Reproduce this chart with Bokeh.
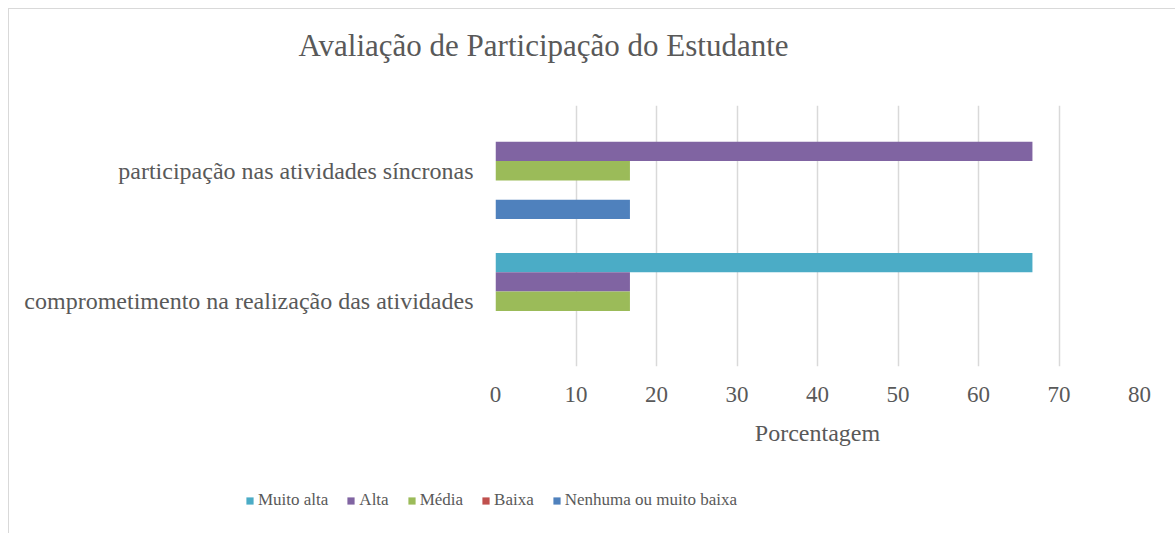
from bokeh.plotting import figure
from bokeh.layouts import column
from bokeh.models import FactorRange, Range1d, Legend, LegendItem, FixedTicker, Label
from bokeh.transform import dodge
from bokeh.embed import file_html
from bokeh.resources import INLINE

title_text = "Avaliação de Participação do Estudante"
x_label = "Porcentagem"
categories = ["comprometimento na realização das atividades",
              "participação nas atividades síncronas"]
series = ["Muito alta", "Alta", "Média", "Baixa", "Nenhuma ou muito baixa"]
muito_alta = [66.7, 0.0]
alta = [16.7, 66.7]
media = [16.7, 16.7]
baixa = [0.0, 0.0]
nenhuma = [0.0, 16.7]
colors = ["#4BACC6", "#8064A2", "#9BBB59", "#C0504D", "#4F81BD"]
x_ticks = [0, 10, 20, 30, 40, 50, 60, 70, 80]

FONT = "Liberation Serif"
TXT = "#595959"
W = 1166

# title strip
p0 = figure(width=W, height=60, output_backend="svg", toolbar_location=None,
            x_axis_type=None, y_axis_type=None,
            x_range=Range1d(0, 1), y_range=Range1d(0, 1),
            min_border=0, background_fill_color="white", border_fill_color="white",
            outline_line_color=None)
p0.frame_align = False
p0.grid.grid_line_color = None
p0.add_layout(Label(x=289, y=24, x_units="screen", y_units="screen", text=title_text,
                    text_font=FONT, text_font_size="31px", text_color=TXT,
                    text_align="left", text_baseline="middle"))

# main chart
p1 = figure(width=W, height=400, output_backend="svg", toolbar_location=None,
            y_range=FactorRange(factors=categories, range_padding=0),
            x_range=Range1d(0, 80),
            min_border_left=486, min_border_right=36,
            min_border_top=36, min_border_bottom=103,
            background_fill_color="white", border_fill_color="white",
            outline_line_color=None)
p1.frame_align = False

data = dict(cat=categories, muito_alta=muito_alta, alta=alta, media=media,
            baixa=baixa, nenhuma=nenhuma)
cols = ["muito_alta", "alta", "media", "baixa", "nenhuma"]
bh = 0.148
offsets = [2 * bh, bh, 0, -bh, -2 * bh]
for col, off, c in zip(cols, offsets, colors):
    p1.hbar(y=dodge("cat", off, range=p1.y_range), right=col, left=0, height=bh,
            source=data, fill_color=c, line_color=None)

p1.xaxis.ticker = FixedTicker(ticks=x_ticks)
p1.xaxis.axis_label = x_label
for ax in (p1.xaxis[0], p1.yaxis[0]):
    ax.axis_line_color = None
    ax.major_tick_line_color = None
    ax.minor_tick_line_color = None
    ax.major_label_text_font = FONT
    ax.major_label_text_color = TXT
    ax.major_label_text_font_size = "23px"
p1.xaxis.major_label_standoff = 14
p1.xaxis.axis_label_text_font = FONT
p1.xaxis.axis_label_text_color = TXT
p1.xaxis.axis_label_text_font_size = "24px"
p1.xaxis.axis_label_text_font_style = "normal"
p1.xaxis.axis_label_standoff = 15
p1.yaxis.major_label_standoff = 16
p1.yaxis.major_label_text_font_size = "24px"

p1.ygrid.grid_line_color = None
p1.xgrid.grid_line_color = "#d9d9d9"
p1.xgrid.grid_line_width = 1.5

# legend strip
p2 = figure(width=W, height=64, output_backend="svg", toolbar_location=None,
            x_axis_type=None, y_axis_type=None,
            x_range=Range1d(0, 1), y_range=Range1d(0, 1),
            min_border=0, background_fill_color="white", border_fill_color="white",
            outline_line_color=None)
p2.frame_align = False
p2.grid.grid_line_color = None
leg_renderers = []
for col, c in zip(cols, colors):
    r = p2.hbar(y=0.5, right=col, left=0, height=0.1, source=data,
                fill_color=c, line_color=None, visible=False)
    leg_renderers.append(r)
legend = Legend(items=[LegendItem(label=s, renderers=[r]) for s, r in zip(series, leg_renderers)],
                orientation="horizontal", location=(236, 23),
                label_text_font=FONT, label_text_font_size="17px", label_text_color=TXT,
                glyph_width=9, glyph_height=9, label_standoff=4, spacing=18,
                padding=0, margin=0, border_line_color=None, background_fill_alpha=0,
                inactive_fill_alpha=0)
p2.add_layout(legend, "center")

layout = column(p0, p1, p2, spacing=0,
                styles={"margin-left": "8px", "margin-top": "8px",
                        "border-left": "1px solid #d9d9d9", "border-top": "1px solid #d9d9d9"})

open("out.html", "w").write(file_html(layout, INLINE))
